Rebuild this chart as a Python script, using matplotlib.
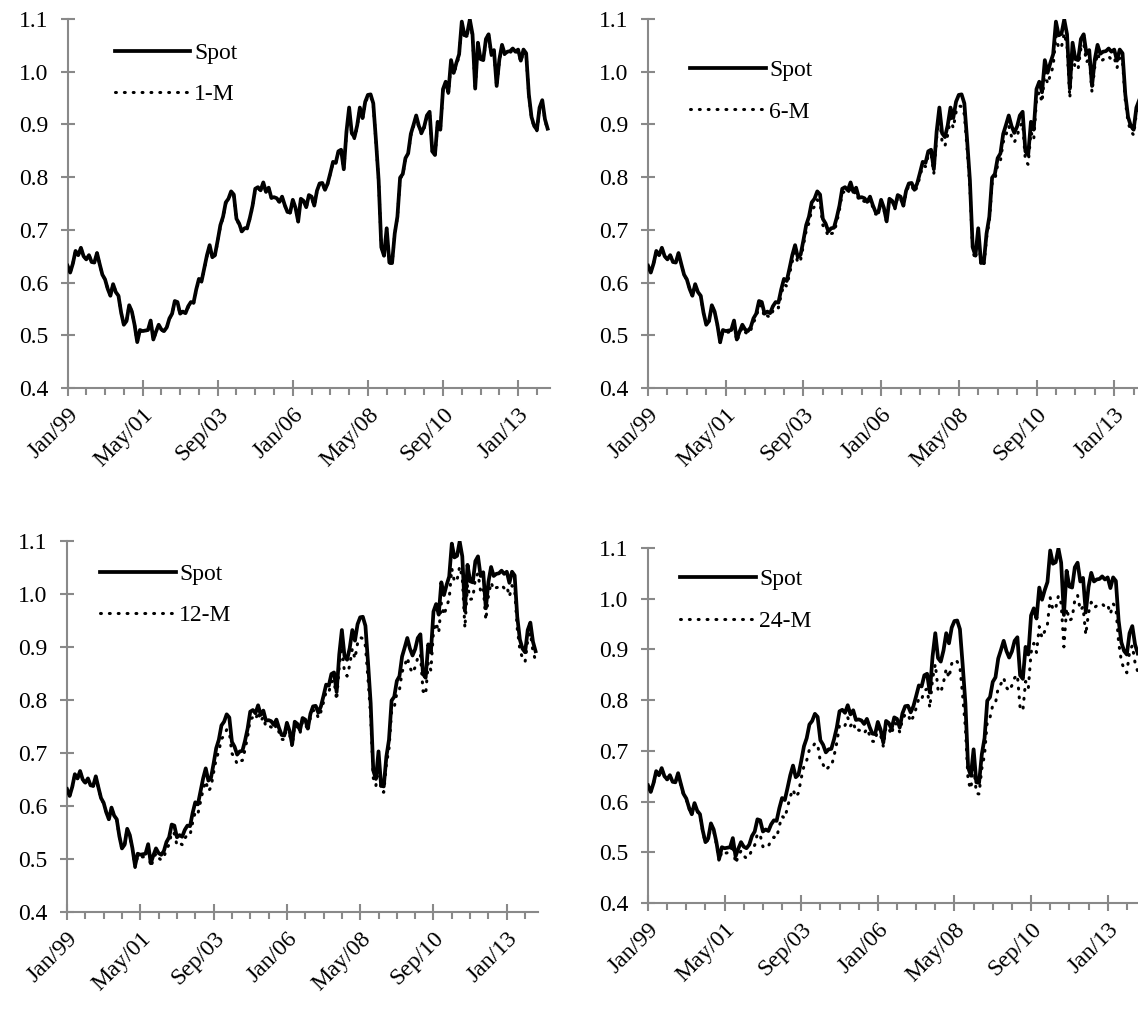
import numpy as np
import pandas as pd
import matplotlib
matplotlib.use("Agg")
import matplotlib.pyplot as plt

# monthly observations, Jan 1999 - Dec 2013
months = pd.date_range("1999-01-01", periods=180, freq="MS")

spot = [
    0.632, 0.619, 0.636, 0.660, 0.652, 0.666, 0.650, 0.644, 0.652, 0.639, 0.638, 0.656,
    0.635, 0.615, 0.606, 0.588, 0.575, 0.597, 0.582, 0.575, 0.543, 0.520, 0.527, 0.557,
    0.545, 0.520, 0.487, 0.510, 0.508, 0.509, 0.510, 0.528, 0.492, 0.507, 0.520, 0.511,
    0.508, 0.515, 0.532, 0.541, 0.565, 0.563, 0.541, 0.545, 0.542, 0.555, 0.563, 0.562,
    0.587, 0.607, 0.603, 0.627, 0.652, 0.671, 0.648, 0.653, 0.680, 0.709, 0.725, 0.752,
    0.759, 0.773, 0.767, 0.721, 0.712, 0.697, 0.703, 0.704, 0.723, 0.746, 0.778, 0.781,
    0.775, 0.790, 0.772, 0.780, 0.761, 0.762, 0.760, 0.753, 0.763, 0.747, 0.734, 0.733,
    0.757, 0.742, 0.716, 0.759, 0.755, 0.743, 0.766, 0.763, 0.746, 0.774, 0.788, 0.789,
    0.776, 0.788, 0.808, 0.829, 0.827, 0.849, 0.852, 0.815, 0.886, 0.932, 0.883, 0.876,
    0.898, 0.932, 0.912, 0.943, 0.956, 0.957, 0.940, 0.870, 0.794, 0.667, 0.651, 0.703,
    0.638, 0.637, 0.693, 0.725, 0.799, 0.806, 0.836, 0.845, 0.882, 0.899, 0.917, 0.897,
    0.884, 0.896, 0.917, 0.924, 0.849, 0.842, 0.905, 0.890, 0.967, 0.981, 0.961, 1.022,
    0.998, 1.017, 1.033, 1.095, 1.069, 1.072, 1.099, 1.071, 0.968, 1.055, 1.024, 1.022,
    1.062, 1.071, 1.034, 1.041, 0.973, 1.023, 1.051, 1.034, 1.038, 1.039, 1.044, 1.038,
    1.042, 1.021, 1.042, 1.035, 0.957, 0.914, 0.897, 0.890, 0.932, 0.946, 0.910, 0.892,
]

fwd_1m = [
    0.632, 0.619, 0.636, 0.660, 0.652, 0.666, 0.650, 0.644, 0.652, 0.639, 0.638, 0.656,
    0.635, 0.615, 0.606, 0.588, 0.575, 0.597, 0.582, 0.575, 0.543, 0.520, 0.527, 0.557,
    0.545, 0.520, 0.487, 0.510, 0.508, 0.509, 0.509, 0.527, 0.491, 0.506, 0.519, 0.510,
    0.507, 0.514, 0.531, 0.540, 0.564, 0.562, 0.540, 0.544, 0.541, 0.553, 0.561, 0.560,
    0.585, 0.605, 0.601, 0.625, 0.650, 0.669, 0.646, 0.651, 0.678, 0.707, 0.723, 0.750,
    0.757, 0.771, 0.765, 0.719, 0.710, 0.695, 0.701, 0.702, 0.721, 0.744, 0.776, 0.779,
    0.774, 0.789, 0.771, 0.779, 0.760, 0.761, 0.759, 0.752, 0.762, 0.746, 0.733, 0.732,
    0.756, 0.741, 0.715, 0.758, 0.754, 0.742, 0.765, 0.762, 0.745, 0.773, 0.787, 0.788,
    0.775, 0.787, 0.807, 0.828, 0.826, 0.848, 0.851, 0.814, 0.883, 0.929, 0.880, 0.873,
    0.895, 0.929, 0.909, 0.940, 0.953, 0.954, 0.937, 0.867, 0.792, 0.666, 0.650, 0.702,
    0.637, 0.636, 0.692, 0.724, 0.797, 0.804, 0.834, 0.843, 0.879, 0.896, 0.914, 0.894,
    0.881, 0.893, 0.914, 0.921, 0.846, 0.839, 0.902, 0.887, 0.964, 0.978, 0.958, 1.019,
    0.994, 1.013, 1.029, 1.091, 1.065, 1.068, 1.095, 1.067, 0.965, 1.051, 1.021, 1.019,
    1.059, 1.068, 1.031, 1.038, 0.971, 1.020, 1.048, 1.031, 1.035, 1.036, 1.041, 1.035,
    1.039, 1.018, 1.039, 1.032, 0.955, 0.912, 0.895, 0.888, 0.930, 0.944, 0.908, 0.890,
]

fwd_6m = [
    0.632, 0.619, 0.636, 0.660, 0.652, 0.666, 0.650, 0.644, 0.652, 0.639, 0.638, 0.656,
    0.634, 0.614, 0.605, 0.587, 0.574, 0.596, 0.581, 0.574, 0.542, 0.519, 0.526, 0.556,
    0.544, 0.519, 0.486, 0.508, 0.505, 0.506, 0.507, 0.524, 0.488, 0.503, 0.515, 0.506,
    0.502, 0.509, 0.525, 0.533, 0.557, 0.555, 0.533, 0.537, 0.534, 0.546, 0.554, 0.552,
    0.577, 0.597, 0.593, 0.616, 0.640, 0.658, 0.637, 0.643, 0.670, 0.698, 0.713, 0.738,
    0.744, 0.757, 0.752, 0.709, 0.701, 0.687, 0.693, 0.694, 0.714, 0.738, 0.770, 0.773,
    0.768, 0.783, 0.766, 0.774, 0.755, 0.756, 0.754, 0.748, 0.758, 0.743, 0.730, 0.729,
    0.754, 0.739, 0.714, 0.756, 0.752, 0.740, 0.763, 0.760, 0.743, 0.771, 0.784, 0.785,
    0.771, 0.782, 0.801, 0.822, 0.820, 0.841, 0.844, 0.807, 0.874, 0.915, 0.866, 0.859,
    0.880, 0.912, 0.893, 0.923, 0.935, 0.934, 0.919, 0.853, 0.781, 0.659, 0.644, 0.695,
    0.632, 0.631, 0.685, 0.716, 0.788, 0.795, 0.823, 0.831, 0.866, 0.880, 0.897, 0.877,
    0.866, 0.877, 0.897, 0.903, 0.831, 0.824, 0.886, 0.871, 0.947, 0.962, 0.942, 1.000,
    0.977, 0.994, 1.010, 1.069, 1.044, 1.047, 1.073, 1.049, 0.950, 1.034, 1.005, 1.005,
    1.044, 1.053, 1.018, 1.025, 0.961, 1.009, 1.035, 1.019, 1.023, 1.024, 1.029, 1.023,
    1.027, 1.007, 1.027, 1.020, 0.945, 0.904, 0.887, 0.880, 0.922, 0.935, 0.900, 0.882,
]

fwd_12m = [
    0.631, 0.618, 0.635, 0.659, 0.651, 0.665, 0.649, 0.643, 0.651, 0.638, 0.637, 0.655,
    0.634, 0.614, 0.605, 0.587, 0.574, 0.596, 0.581, 0.574, 0.542, 0.519, 0.526, 0.556,
    0.543, 0.518, 0.484, 0.506, 0.503, 0.504, 0.504, 0.521, 0.485, 0.499, 0.511, 0.502,
    0.498, 0.503, 0.519, 0.527, 0.551, 0.548, 0.526, 0.530, 0.527, 0.539, 0.546, 0.545,
    0.569, 0.589, 0.585, 0.608, 0.631, 0.647, 0.628, 0.635, 0.663, 0.689, 0.703, 0.727,
    0.732, 0.744, 0.740, 0.699, 0.692, 0.679, 0.685, 0.686, 0.706, 0.731, 0.764, 0.767,
    0.762, 0.778, 0.760, 0.768, 0.749, 0.751, 0.749, 0.743, 0.753, 0.739, 0.726, 0.725,
    0.751, 0.736, 0.712, 0.753, 0.749, 0.737, 0.760, 0.757, 0.741, 0.768, 0.780, 0.781,
    0.766, 0.778, 0.796, 0.816, 0.814, 0.834, 0.837, 0.800, 0.864, 0.901, 0.852, 0.845,
    0.866, 0.897, 0.878, 0.907, 0.918, 0.916, 0.902, 0.839, 0.770, 0.653, 0.638, 0.689,
    0.627, 0.626, 0.679, 0.708, 0.779, 0.786, 0.813, 0.819, 0.853, 0.865, 0.880, 0.861,
    0.851, 0.862, 0.880, 0.887, 0.817, 0.810, 0.871, 0.856, 0.930, 0.946, 0.927, 0.983,
    0.960, 0.976, 0.991, 1.048, 1.023, 1.026, 1.052, 1.031, 0.936, 1.018, 0.990, 0.991,
    1.030, 1.039, 1.005, 1.012, 0.951, 0.997, 1.022, 1.008, 1.012, 1.013, 1.017, 1.011,
    1.015, 0.995, 1.016, 1.009, 0.935, 0.895, 0.879, 0.872, 0.913, 0.927, 0.892, 0.874,
]

fwd_24m = [
    0.631, 0.618, 0.635, 0.659, 0.651, 0.665, 0.649, 0.643, 0.651, 0.638, 0.637, 0.655,
    0.633, 0.613, 0.604, 0.586, 0.573, 0.595, 0.580, 0.573, 0.541, 0.518, 0.525, 0.555,
    0.542, 0.516, 0.482, 0.502, 0.498, 0.499, 0.498, 0.515, 0.478, 0.492, 0.503, 0.493,
    0.488, 0.492, 0.506, 0.514, 0.537, 0.534, 0.511, 0.515, 0.512, 0.524, 0.530, 0.528,
    0.552, 0.571, 0.567, 0.589, 0.610, 0.624, 0.609, 0.617, 0.646, 0.670, 0.681, 0.703,
    0.706, 0.715, 0.713, 0.678, 0.673, 0.662, 0.668, 0.669, 0.690, 0.716, 0.751, 0.754,
    0.750, 0.766, 0.749, 0.757, 0.738, 0.741, 0.739, 0.734, 0.744, 0.731, 0.719, 0.718,
    0.746, 0.731, 0.709, 0.748, 0.744, 0.732, 0.755, 0.752, 0.737, 0.762, 0.772, 0.773,
    0.757, 0.768, 0.784, 0.804, 0.801, 0.819, 0.822, 0.785, 0.842, 0.871, 0.821, 0.815,
    0.835, 0.862, 0.844, 0.872, 0.880, 0.876, 0.865, 0.809, 0.746, 0.640, 0.625, 0.675,
    0.616, 0.615, 0.665, 0.692, 0.759, 0.766, 0.790, 0.794, 0.825, 0.832, 0.844, 0.825,
    0.818, 0.829, 0.844, 0.850, 0.785, 0.779, 0.837, 0.823, 0.894, 0.912, 0.894, 0.945,
    0.923, 0.936, 0.950, 1.002, 0.978, 0.981, 1.006, 0.991, 0.905, 0.981, 0.957, 0.961,
    0.998, 1.007, 0.977, 0.984, 0.929, 0.972, 0.993, 0.982, 0.986, 0.987, 0.990, 0.984,
    0.988, 0.970, 0.990, 0.983, 0.914, 0.877, 0.861, 0.854, 0.895, 0.908, 0.874, 0.856,
]

tenor_names = ["1-M", "6-M", "12-M", "24-M"]
tenor_series = [fwd_1m, fwd_6m, fwd_12m, fwd_24m]

W, H = 1138, 1019
# axes boxes in pixels: left, right, top, bottom
boxes = [
    (67.5, 550.3, 19, 388),
    (648, 1147.5, 19, 388),
    (67, 538.2, 541, 912),
    (648, 1140.5, 548, 903),
]
# legend anchor (axes fraction) per panel
leg_pos = [(0.098, 0.937), (0.084, 0.89), (0.07, 0.94), (0.065, 0.941)]

axis_grey = "#898989"
plt.rcParams["font.family"] = ["Liberation Serif", "DejaVu Serif"]
plt.rcParams["font.size"] = 17

fig = plt.figure(figsize=(W / 100, H / 100), dpi=100)

x = np.arange(len(months))
tick_idx = x[::28]
tick_lbl = [months[i].strftime("%b/%y") for i in tick_idx]

for k in range(4):
    l, r, t, b = boxes[k]
    ax = fig.add_axes([l / W, 1 - b / H, (r - l) / W, (b - t) / H])

    ax.plot(x, spot, color="black", lw=2.7, solid_joinstyle="round", label="Spot", zorder=3)
    ax.plot(x, tenor_series[k], color="black", lw=2.2, linestyle=(0, (0.3, 2.6)),
            dash_capstyle="round", label=tenor_names[k], zorder=2)

    ax.set_xlim(0, 180)
    ax.set_ylim(0.4, 1.1)
    ax.set_yticks(np.arange(0.4, 1.101, 0.1))
    ax.set_yticklabels([f"{v:.1f}" for v in np.arange(0.4, 1.101, 0.1)])
    ax.set_xticks(tick_idx)
    ax.set_xticklabels(tick_lbl, rotation=45, ha="right", rotation_mode="anchor")
    ax.set_xticks(np.arange(0, 181, 7), minor=True)

    for s in ["top", "right"]:
        ax.spines[s].set_visible(False)
    for s in ["left", "bottom"]:
        ax.spines[s].set_color(axis_grey)
        ax.spines[s].set_linewidth(1.5)

    ax.tick_params(axis="x", which="major", direction="inout", length=11, width=1.5,
                   color=axis_grey, pad=6)
    ax.tick_params(axis="x", which="minor", direction="out", length=5, width=1.5,
                   color=axis_grey)
    ax.tick_params(axis="y", which="major", direction="inout", length=10, width=1.5,
                   color=axis_grey, pad=9)

    ax.legend(loc="upper left", bbox_to_anchor=leg_pos[k], frameon=False,
              handlelength=3.2, handletextpad=0.15, labelspacing=0.85,
              borderpad=0, borderaxespad=0)

fig.savefig("out.png", dpi=100)
